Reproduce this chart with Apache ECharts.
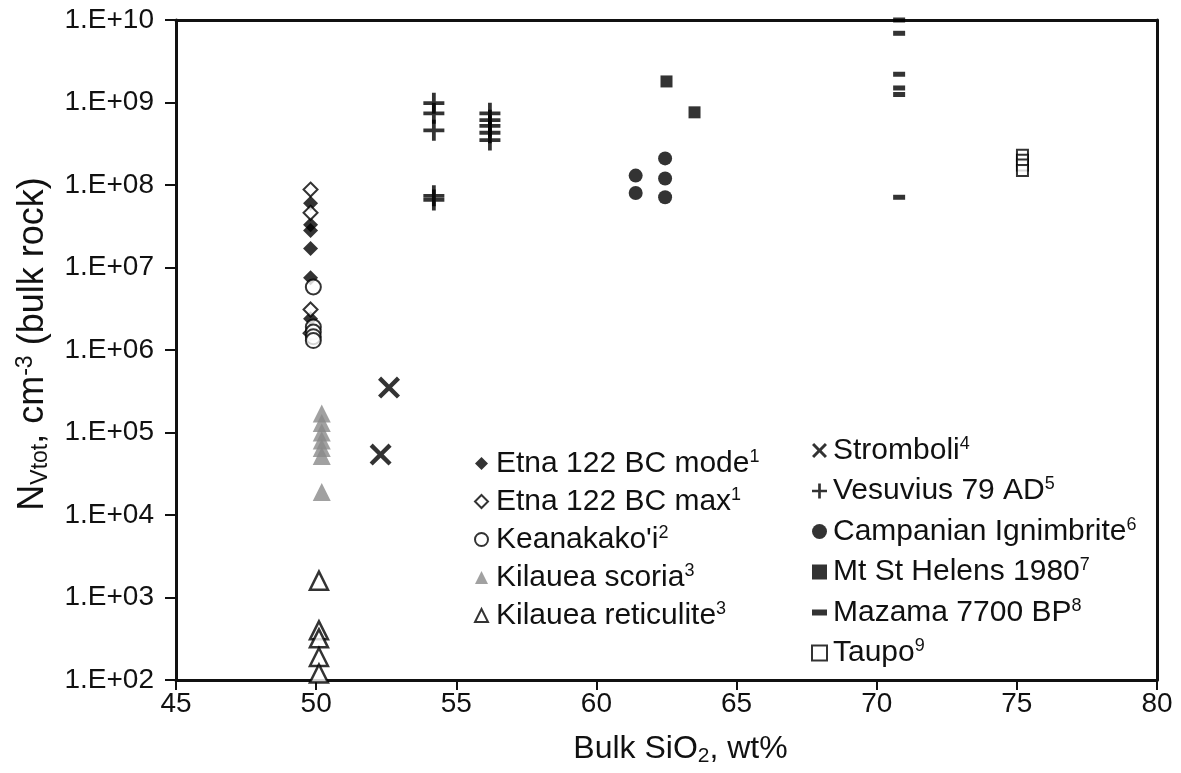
<!DOCTYPE html>
<html>
<head>
<meta charset="utf-8">
<script src="https://cdn.jsdelivr.net/npm/echarts@6/dist/echarts.min.js"></script>
<style>
  html, body { margin: 0; padding: 0; background: #fff; }
  #chart { width: 1181px; height: 773px; }
</style>
</head>
<body>
<div id="chart"></div>
<script>
// values: [SiO2 wt%, N per cm3]
const etnaMode = [[49.8, 6e7], [49.8, 3.3e7], [49.8, 2.8e7], [49.8, 1.7e7], [49.8, 7.5e6], [49.8, 2.4e6]];
const etnaMax = [[49.8, 8.8e7], [49.8, 4.6e7], [49.8, 3.1e6], [49.8, 1.6e6]];
const keanakakoi = [[49.9, 5.8e6], [49.9, 1.9e6], [49.9, 1.65e6], [49.9, 1.45e6], [49.9, 1.3e6]];
const kilaueaScoria = [[50.2, 1.7e5], [50.2, 1.3e5], [50.2, 1.0e5], [50.2, 8e4], [50.2, 6.5e4], [50.2, 5.2e4], [50.2, 1.9e4]];
const kilaueaReticulite = [[50.1, 1.6e3], [50.1, 4.0e2], [50.1, 3.2e2], [50.1, 1.9e2], [50.1, 1.2e2]];
const stromboli = [[52.6, 3.5e5], [52.3, 5.4e4]];
const vesuvius = [[54.2, 9.8e8], [54.2, 7.4e8], [54.2, 4.6e8], [54.2, 7.4e7], [54.2, 6.6e7], [56.2, 7.4e8], [56.2, 6.1e8], [56.2, 5.2e8], [56.2, 4.3e8], [56.2, 3.5e8]];
const campanian = [[61.4, 1.3e8], [61.4, 8e7], [62.45, 2.1e8], [62.45, 1.2e8], [62.45, 7.1e7]];
const stHelens = [[62.5, 1.8e9], [63.5, 7.6e8]];
const mazama = [[70.8, 1e10], [70.8, 6.9e9], [70.8, 2.2e9], [70.8, 1.5e9], [70.8, 1.25e9], [70.8, 7.1e7]];
const taupo = [[75.2, 2.3e8], [75.2, 2.0e8], [75.2, 1.75e8], [75.2, 1.5e8]];

const legendLeft = ['Etna 122 BC mode', 'Etna 122 BC max', "Keanakako'i", 'Kilauea scoria', 'Kilauea reticulite'];
const legendRight = ['Stromboli', 'Vesuvius 79 AD', 'Campanian Ignimbrite', 'Mt St Helens 1980', 'Mazama 7700 BP', 'Taupo'];
const refNumbers = {
  'Etna 122 BC mode': 1, 'Etna 122 BC max': 1, "Keanakako'i": 2, 'Kilauea scoria': 3, 'Kilauea reticulite': 3,
  'Stromboli': 4, 'Vesuvius 79 AD': 5, 'Campanian Ignimbrite': 6, 'Mt St Helens 1980': 7, 'Mazama 7700 BP': 8, 'Taupo': 9
};

const FONT = 'Liberation Sans, Arial, sans-serif';
const plusPath = 'path://M4.1,0H5.9V4.1H10V5.9H5.9V10H4.1V5.9H0V4.1H4.1Z';
const crossPath = 'path://M0,1.4L1.4,0L5,3.6L8.6,0L10,1.4L6.4,5L10,8.6L8.6,10L5,6.4L1.4,10L0,8.6L3.6,5Z';
const dashPath = 'path://M0,3H10V7H0Z';

const openStyle = { color: '#fff', borderColor: '#000', borderWidth: 2 };
const fillStyle = { color: '#000' };

let chartDom = document.getElementById('chart');
let myChart = echarts.init(chartDom);

function sc(name, data, symbol, size, style) {
  return { name: name, type: 'scatter', data: data, symbol: symbol, symbolSize: size, itemStyle: style, xAxisIndex: 0, yAxisIndex: 0 };
}

function legendText(pad) {
  return {
    fontFamily: FONT, fontSize: 30, color: '#111', padding: [0, 0, 0, pad],
    rich: { sup: { fontFamily: FONT, fontSize: 18, color: '#111', padding: [0, 0, 13, 0] } }
  };
}

let option = {
  animation: false,
  backgroundColor: '#fff',
  grid: { left: 176, right: 24, top: 20, bottom: 93, containLabel: false },
  xAxis: [{
    type: 'value', min: 45, max: 80, interval: 5,
    name: 'Bulk SiO{sub|2}, wt%', nameLocation: 'middle', nameGap: 52,
    nameTextStyle: { fontFamily: FONT, fontSize: 32, color: '#111', padding: [0, 0, 0, 28],
      rich: { sub: { fontFamily: FONT, fontSize: 21, color: '#111', padding: [14, 0, 0, 0] } } },
    axisLine: { show: true, onZero: false, lineStyle: { color: '#111', width: 3 } },
    axisTick: { show: true, inside: false, length: 10, lineStyle: { color: '#111', width: 2 } },
    axisLabel: { fontFamily: FONT, fontSize: 28, color: '#111', margin: 10 },
    splitLine: { show: false }
  }, {
    type: 'value', min: 0, max: 1, position: 'top',
    axisLine: { show: true, onZero: false, lineStyle: { color: '#111', width: 3 } },
    axisTick: { show: false }, axisLabel: { show: false }, splitLine: { show: false }
  }],
  yAxis: [{
    type: 'log', logBase: 10, min: 1e2, max: 1e10, splitNumber: 8,
    name: 'N{sub|Vtot}, cm{sup|-3} (bulk rock)', nameLocation: 'middle', nameGap: 124,
    nameTextStyle: { fontFamily: FONT, fontSize: 36, color: '#111', padding: [0, 0, 0, 12],
      rich: {
        sub: { fontFamily: FONT, fontSize: 23, color: '#111', padding: [15, 0, 0, 0] },
        sup: { fontFamily: FONT, fontSize: 23, color: '#111', padding: [0, 0, 15, 0] }
      } },
    axisLine: { show: true, onZero: false, lineStyle: { color: '#111', width: 3 } },
    axisTick: { show: true, inside: false, length: 11, lineStyle: { color: '#111', width: 2 } },
    axisLabel: { fontFamily: FONT, fontSize: 28, color: '#111', margin: 22,
      formatter: function (v) {
        let e = Math.round(Math.log10(v));
        return '1.E+' + (e < 10 ? '0' + e : e);
      } },
    splitLine: { show: false }
  }, {
    type: 'value', min: 0, max: 1, position: 'right',
    axisLine: { show: true, onZero: false, lineStyle: { color: '#111', width: 3 } },
    axisTick: { show: false }, axisLabel: { show: false }, splitLine: { show: false }
  }],
  legend: [{
    orient: 'vertical', left: 469, top: 443, itemGap: 7.5, itemWidth: 13, itemHeight: 13,
    data: [
      { name: legendLeft[0], icon: 'diamond' },
      { name: legendLeft[1], icon: 'diamond' },
      { name: legendLeft[2], icon: 'circle' },
      { name: legendLeft[3], icon: 'triangle' },
      { name: legendLeft[4], icon: 'triangle' }
    ],
    textStyle: legendText(3),
    formatter: function (n) { return n + '{sup|' + refNumbers[n] + '}'; }
  }, {
    orient: 'vertical', left: 806, top: 430, itemGap: 10, itemWidth: 15, itemHeight: 15,
    data: [
      { name: legendRight[0], icon: crossPath },
      { name: legendRight[1], icon: plusPath },
      { name: legendRight[2], icon: 'circle' },
      { name: legendRight[3], icon: 'rect' },
      { name: legendRight[4], icon: dashPath },
      { name: legendRight[5], icon: 'rect' }
    ],
    textStyle: legendText(1),
    formatter: function (n) { return n + '{sup|' + refNumbers[n] + '}'; }
  }],
  series: [
    sc('Etna 122 BC mode', etnaMode, 'diamond', 15, fillStyle),
    sc('Etna 122 BC max', etnaMax, 'diamond', 14, openStyle),
    sc("Keanakako'i", keanakakoi, 'circle', 15, openStyle),
    sc('Kilauea scoria', kilaueaScoria, 'triangle', 18, { color: '#8a8a8a' }),
    sc('Kilauea reticulite', kilaueaReticulite, 'triangle', 18, { color: '#fff', borderColor: '#000', borderWidth: 2.5 }),
    sc('Stromboli', stromboli, crossPath, 22, fillStyle),
    sc('Vesuvius 79 AD', vesuvius, plusPath, 21, fillStyle),
    sc('Campanian Ignimbrite', campanian, 'circle', 14, fillStyle),
    sc('Mt St Helens 1980', stHelens, 'rect', 12, fillStyle),
    sc('Mazama 7700 BP', mazama, 'rect', [12, 5], fillStyle),
    sc('Taupo', taupo, 'rect', 11, openStyle)
  ]
};

myChart.setOption(option);
</script>
</body>
</html>
